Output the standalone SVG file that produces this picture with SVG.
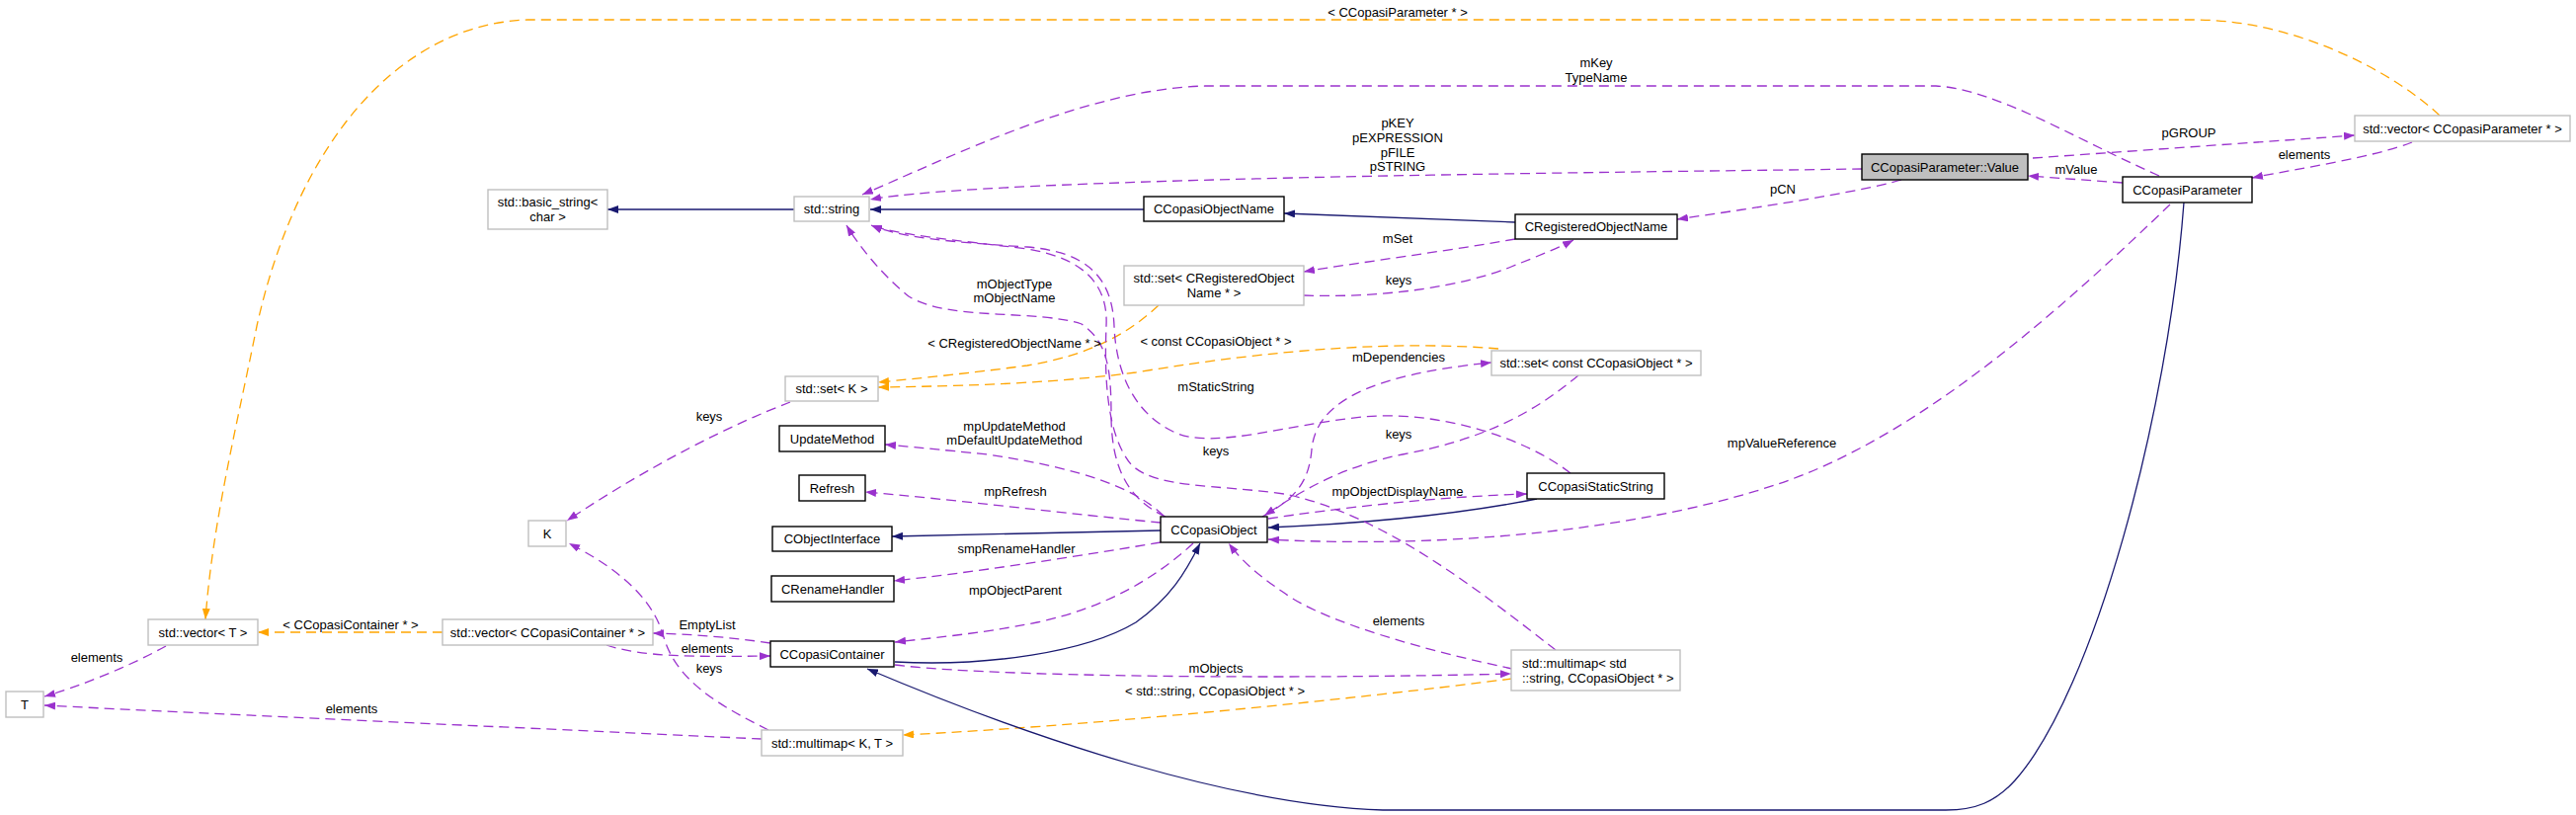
<svg xmlns="http://www.w3.org/2000/svg" width="2608" height="825" viewBox="0 0 2608 825">
<style>
text{font-family:"Liberation Sans",Arial,sans-serif;font-size:13px;fill:#000;}
.c{text-anchor:middle;}
.n rect{fill:#fff;stroke:#000;stroke-width:1.4;}
.g rect{fill:#fff;stroke:#bfbfbf;stroke-width:1.4;}
.sel rect{fill:#bfbfbf;stroke:#000;stroke-width:1.4;}
.e{fill:none;stroke-width:1.3;}
.p{stroke:#9a32cd;stroke-dasharray:10,6;marker-end:url(#ap);}
.b{stroke:#191970;marker-end:url(#ab);}
.o{stroke:#ffa500;stroke-dasharray:10,6;marker-end:url(#ao);}
</style>
<defs>
<marker id="ap" markerUnits="userSpaceOnUse" markerWidth="11" markerHeight="8" refX="11" refY="4" orient="auto"><path d="M0,0 L11,4 L0,8 z" fill="#9a32cd"/></marker>
<marker id="ab" markerUnits="userSpaceOnUse" markerWidth="11" markerHeight="8" refX="11" refY="4" orient="auto"><path d="M0,0 L11,4 L0,8 z" fill="#191970"/></marker>
<marker id="ao" markerUnits="userSpaceOnUse" markerWidth="11" markerHeight="8" refX="11" refY="4" orient="auto"><path d="M0,0 L11,4 L0,8 z" fill="#ffa500"/></marker>
</defs>
<rect width="2608" height="825" fill="#fff"/>

<g id="edges">
<path class="e b" d="M804,212 L615,212"/>
<path class="e b" d="M1158,212 L881,212"/>
<path class="e b" d="M1534,225 L1300,216"/>
<path class="e p" d="M1925,182 C1880,195 1780,210 1698,222"/>
<path class="e p" d="M1885,171 C1600,175 1000,180 881,202"/>
<path class="e p" d="M2186,178 C2100,140 2020,90 1960,87 L1220,87 C1100,90 960,160 873,197"/>
<path class="e p" d="M2149,185 L2053,178"/>
<path class="e p" d="M2058,160 L2384,137"/>
<path class="e p" d="M2442,144 C2400,160 2330,170 2280,180"/>
<path class="e o" d="M2470,117 C2420,70 2320,20 2222,20 L534,20 C400,25 300,150 260,330 C240,430 215,530 208,627"/>
<path class="e o" d="M448,640 L261,640"/>
<path class="e p" d="M168,654 C130,675 80,695 45,705"/>
<path class="e p" d="M771,748 C600,740 200,722 45,714"/>
<path class="e p" d="M778,739 C730,715 685,690 672,645 C660,600 615,570 576,550"/>
<path class="e p" d="M800,407 C740,430 660,470 574,527"/>
<path class="e o" d="M1173,309 C1140,340 1100,360 1040,370 C980,378 930,383 889,387"/>
<path class="e o" d="M1517,353 C1420,345 1300,352 1150,377 C1050,390 950,391 889,392"/>
<path class="e p" d="M1534,242 C1460,255 1380,265 1320,275"/>
<path class="e p" d="M1320,299 C1400,302 1480,290 1530,270 C1560,258 1580,250 1593,243"/>
<path class="e p" d="M1278,523 C1310,505 1325,490 1328,455 C1332,410 1380,380 1510,367"/>
<path class="e p" d="M1598,380 C1550,420 1500,445 1420,460 C1360,472 1320,495 1280,522"/>
<path class="e b" d="M1556,505 C1480,520 1380,530 1284,534"/>
<path class="e p" d="M1284,525 C1350,515 1450,503 1546,500"/>
<path class="e p" d="M2197,207 C2100,300 1950,440 1800,490 C1650,540 1450,555 1284,546"/>
<path class="e p" d="M1531,677 C1450,660 1340,630 1300,600 C1270,580 1255,565 1244,550"/>
<path class="e b" d="M906,670 C1000,675 1100,660 1150,630 C1185,605 1200,580 1215,550"/>
<path class="e p" d="M1208,550 C1170,585 1120,615 1050,630 C990,642 940,646 906,650"/>
<path class="e p" d="M1175,549 C1080,565 980,580 905,588"/>
<path class="e b" d="M1175,537 L903,543"/>
<path class="e p" d="M1175,529 C1080,520 960,505 876,498"/>
<path class="e p" d="M1178,522 C1150,495 1100,475 1000,460 C950,455 920,452 896,450"/>
<path class="e p" d="M1180,523 C1140,505 1125,470 1125,420 C1125,370 1120,345 1095,328 C1050,313 960,325 920,300 C895,280 870,250 857,228"/>
<path class="e p" d="M1590,479 C1540,440 1450,415 1380,422 C1300,430 1230,455 1190,438 C1150,420 1130,380 1128,330 C1126,280 1100,255 1040,250 C960,245 910,240 882,228"/>
<path class="e p" d="M1575,658 C1500,600 1400,520 1300,500 C1230,490 1170,495 1145,470 C1120,440 1118,380 1120,330 C1122,290 1100,262 1040,252 C960,242 910,238 882,228"/>
<path class="e p" d="M780,651 C740,645 700,642 661,641"/>
<path class="e p" d="M614,653 C650,665 700,665 780,664"/>
<path class="e p" d="M906,673 C1000,685 1300,688 1530,682"/>
<path class="e o" d="M1531,687 C1350,710 1100,735 914,744"/>
<path class="e b" d="M2211,205 C2195,420 2120,700 2040,790 C2020,812 2000,820 1970,820 L1400,820 C1250,815 1050,750 878,677"/>

<text class="c" x="1415" y="17">&lt; CCopasiParameter * &gt;</text>
<text class="c" x="1616" y="68">mKey</text>
<text class="c" x="1616" y="83">TypeName</text>
<text class="c" x="1415" y="129">pKEY</text>
<text class="c" x="1415" y="144">pEXPRESSION</text>
<text class="c" x="1415" y="159">pFILE</text>
<text class="c" x="1415" y="173">pSTRING</text>
<text class="c" x="2216" y="139">pGROUP</text>
<text class="c" x="2333" y="161">elements</text>
<text class="c" x="2102" y="176">mValue</text>
<text class="c" x="1805" y="196">pCN</text>
<text class="c" x="1415" y="246">mSet</text>
<text class="c" x="1416" y="288">keys</text>
<text class="c" x="1027" y="292">mObjectType</text>
<text class="c" x="1027" y="306">mObjectName</text>
<text class="c" x="1027" y="352">&lt; CRegisteredObjectName * &gt;</text>
<text class="c" x="1231" y="350">&lt; const CCopasiObject * &gt;</text>
<text class="c" x="1416" y="366">mDependencies</text>
<text class="c" x="1231" y="396">mStaticString</text>
<text class="c" x="718" y="426">keys</text>
<text class="c" x="1027" y="436">mpUpdateMethod</text>
<text class="c" x="1027" y="450">mDefaultUpdateMethod</text>
<text class="c" x="1416" y="444">keys</text>
<text class="c" x="1804" y="453">mpValueReference</text>
<text class="c" x="1231" y="461">keys</text>
<text class="c" x="1028" y="502">mpRefresh</text>
<text class="c" x="1415" y="502">mpObjectDisplayName</text>
<text class="c" x="1029" y="560">smpRenameHandler</text>
<text class="c" x="1028" y="602">mpObjectParent</text>
<text class="c" x="1416" y="633">elements</text>
<text class="c" x="355" y="637">&lt; CCopasiContainer * &gt;</text>
<text class="c" x="716" y="637">EmptyList</text>
<text class="c" x="716" y="661">elements</text>
<text class="c" x="98" y="670">elements</text>
<text class="c" x="718" y="681">keys</text>
<text class="c" x="1231" y="681">mObjects</text>
<text class="c" x="1230" y="704">&lt; std::string, CCopasiObject * &gt;</text>
<text class="c" x="356" y="722">elements</text>
</g>

<g id="n_basic_string" class="g"><rect x="494" y="192" width="121" height="40"/><text class="c" x="554.5" y="209">std::basic_string&lt;</text><text class="c" x="554.5" y="224">char &gt;</text></g>
<g id="n_string" class="g"><rect x="804" y="199" width="76" height="25"/><text class="c" x="842" y="216">std::string</text></g>
<g id="n_CCopasiObjectName" class="n"><rect x="1158" y="199" width="142" height="25"/><text class="c" x="1229" y="216">CCopasiObjectName</text></g>
<g id="n_CRegisteredObjectName" class="n"><rect x="1534" y="217" width="164" height="25"/><text class="c" x="1616" y="234">CRegisteredObjectName</text></g>
<g id="n_Value" class="sel"><rect x="1885" y="156" width="168" height="26"/><text class="c" x="1969" y="174">CCopasiParameter::Value</text></g>
<g id="n_CCopasiParameter" class="n"><rect x="2149" y="179" width="131" height="26"/><text class="c" x="2214.5" y="197">CCopasiParameter</text></g>
<g id="n_vector_param" class="g"><rect x="2384" y="117" width="218" height="26"/><text class="c" x="2493" y="135">std::vector&lt; CCopasiParameter * &gt;</text></g>
<g id="n_set_cron" class="g"><rect x="1138" y="269" width="182" height="40"/><text class="c" x="1229" y="286">std::set&lt; CRegisteredObject</text><text class="c" x="1229" y="301">Name * &gt;</text></g>
<g id="n_set_cco" class="g"><rect x="1510" y="355" width="212" height="25"/><text class="c" x="1616" y="372">std::set&lt; const CCopasiObject * &gt;</text></g>
<g id="n_set_K" class="g"><rect x="795" y="381" width="94" height="25"/><text class="c" x="842" y="398">std::set&lt; K &gt;</text></g>
<g id="n_K" class="g"><rect x="535" y="527" width="38" height="26"/><text class="c" x="554" y="545">K</text></g>
<g id="n_UpdateMethod" class="n"><rect x="789" y="431" width="107" height="26"/><text class="c" x="842.5" y="449">UpdateMethod</text></g>
<g id="n_Refresh" class="n"><rect x="809" y="481" width="67" height="26"/><text class="c" x="842.5" y="499">Refresh</text></g>
<g id="n_CObjectInterface" class="n"><rect x="782" y="533" width="121" height="25"/><text class="c" x="842.5" y="550">CObjectInterface</text></g>
<g id="n_CRenameHandler" class="n"><rect x="781" y="583" width="124" height="26"/><text class="c" x="843" y="601">CRenameHandler</text></g>
<g id="n_CCopasiObject" class="n"><rect x="1175" y="523" width="108" height="26"/><text class="c" x="1229" y="541">CCopasiObject</text></g>
<g id="n_CCopasiStaticString" class="n"><rect x="1546" y="479" width="139" height="26"/><text class="c" x="1615.5" y="497">CCopasiStaticString</text></g>
<g id="n_vector_T" class="g"><rect x="150" y="627" width="111" height="26"/><text class="c" x="205.5" y="645">std::vector&lt; T &gt;</text></g>
<g id="n_vector_cont" class="g"><rect x="448" y="627" width="213" height="26"/><text class="c" x="554.5" y="645">std::vector&lt; CCopasiContainer * &gt;</text></g>
<g id="n_CCopasiContainer" class="n"><rect x="780" y="649" width="125" height="26"/><text class="c" x="842.5" y="667">CCopasiContainer</text></g>
<g id="n_T" class="g"><rect x="6" y="700" width="38" height="26"/><text class="c" x="25" y="718">T</text></g>
<g id="n_multimap_KT" class="g"><rect x="771" y="739" width="143" height="26"/><text class="c" x="842.5" y="757">std::multimap&lt; K, T &gt;</text></g>
<g id="n_multimap_std" class="g"><rect x="1530" y="658" width="171" height="41"/><text x="1541" y="676">std::multimap&lt; std</text><text x="1541" y="691">::string, CCopasiObject * &gt;</text></g>
</svg>
